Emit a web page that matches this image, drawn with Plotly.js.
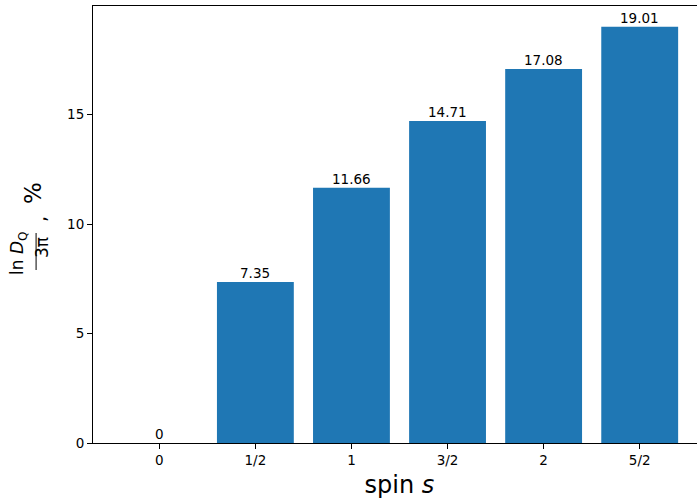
<!DOCTYPE html>
<html>
<head>
<meta charset="utf-8">
<script src="https://cdn.plot.ly/plotly-3.0.1.min.js"></script>
<style>
html,body{margin:0;padding:0;overflow:hidden;background:#fff;width:697px;height:501px;}
#chart{width:710px;height:501px;}
</style>
</head>
<body>
<div id="chart"></div>
<script>
const categories = ['0', '1/2', '1', '3/2', '2', '5/2'];
const values = [0, 7.35, 11.66, 14.71, 17.08, 19.01];
const valueLabels = ['0', '7.35', '11.66', '14.71', '17.08', '19.01'];
const yTicks = [0, 5, 10, 15];

const xpos = categories.map((c, i) => i);
const font = 'DejaVu Sans, sans-serif';

const trace = {
  type: 'bar',
  x: xpos,
  y: values,
  width: 0.8,
  marker: {color: '#1f77b4', line: {width: 0}},
  hoverinfo: 'skip'
};

const annotations = values.map((v, i) => ({
  x: i, y: v, xref: 'x', yref: 'y',
  text: valueLabels[i], showarrow: false,
  xanchor: 'center', yanchor: 'bottom', yshift: -1,
  font: {family: font, size: 13.5, color: '#000'}
}));

// y-axis label: fraction ln D_Q / 3π , %
annotations.push({
  xref: 'paper', yref: 'paper', x: 0, y: (443 - 254) / 437,
  xshift: -74, text: 'ln <i>D</i><sub>Q</sub>', showarrow: false,
  textangle: -90, xanchor: 'center', yanchor: 'middle',
  font: {family: font, size: 17, color: '#000'}
});
annotations.push({
  xref: 'paper', yref: 'paper', x: 0, y: (443 - 248) / 437,
  xshift: -51, text: '3π', showarrow: false,
  textangle: -90, xanchor: 'center', yanchor: 'middle',
  font: {family: font, size: 17, color: '#000'}
});
annotations.push({
  xref: 'paper', yref: 'paper', x: 0, y: (443 - 219) / 437,
  xshift: -54, text: ',', showarrow: false,
  textangle: -90, xanchor: 'center', yanchor: 'middle',
  font: {family: font, size: 19, color: '#000'}
});
annotations.push({
  xref: 'paper', yref: 'paper', x: 0, y: (443 - 193) / 437,
  xshift: -60, text: '%', showarrow: false,
  textangle: -90, xanchor: 'center', yanchor: 'middle',
  font: {family: font, size: 23, color: '#000'}
});

const layout = {
  width: 710, height: 501,
  margin: {l: 93, r: 4, t: 6, b: 58, pad: 0},
  paper_bgcolor: '#fff', plot_bgcolor: '#fff',
  showlegend: false,
  font: {family: font, size: 13.5, color: '#000'},
  xaxis: {
    range: [-0.69, 5.69],
    tickvals: xpos, ticktext: categories,
    ticks: 'outside', ticklen: 5, tickwidth: 1, tickcolor: '#000',
    showline: true, linecolor: '#000', linewidth: 1, mirror: true,
    showgrid: false, zeroline: false,
    tickfont: {family: font, size: 13.5, color: '#000'},
    title: {text: 'spin <i>s</i>', font: {family: font, size: 24, color: '#000'}, standoff: 8}
  },
  yaxis: {
    range: [0, 19.96],
    tickvals: yTicks,
    ticks: 'outside', ticklen: 5, tickwidth: 1, tickcolor: '#000',
    showline: true, linecolor: '#000', linewidth: 1, mirror: true,
    showgrid: false, zeroline: false,
    tickfont: {family: font, size: 13.5, color: '#000'}
  },
  shapes: [{
    type: 'line', xref: 'paper', yref: 'paper',
    x0: -57 / 614, x1: -57 / 614,
    y0: (443 - 270) / 437, y1: (443 - 233) / 437,
    line: {color: '#000', width: 1}
  }],
  annotations: annotations
};

Plotly.newPlot('chart', [trace], layout, {displayModeBar: false, staticPlot: true});
</script>
</body>
</html>
